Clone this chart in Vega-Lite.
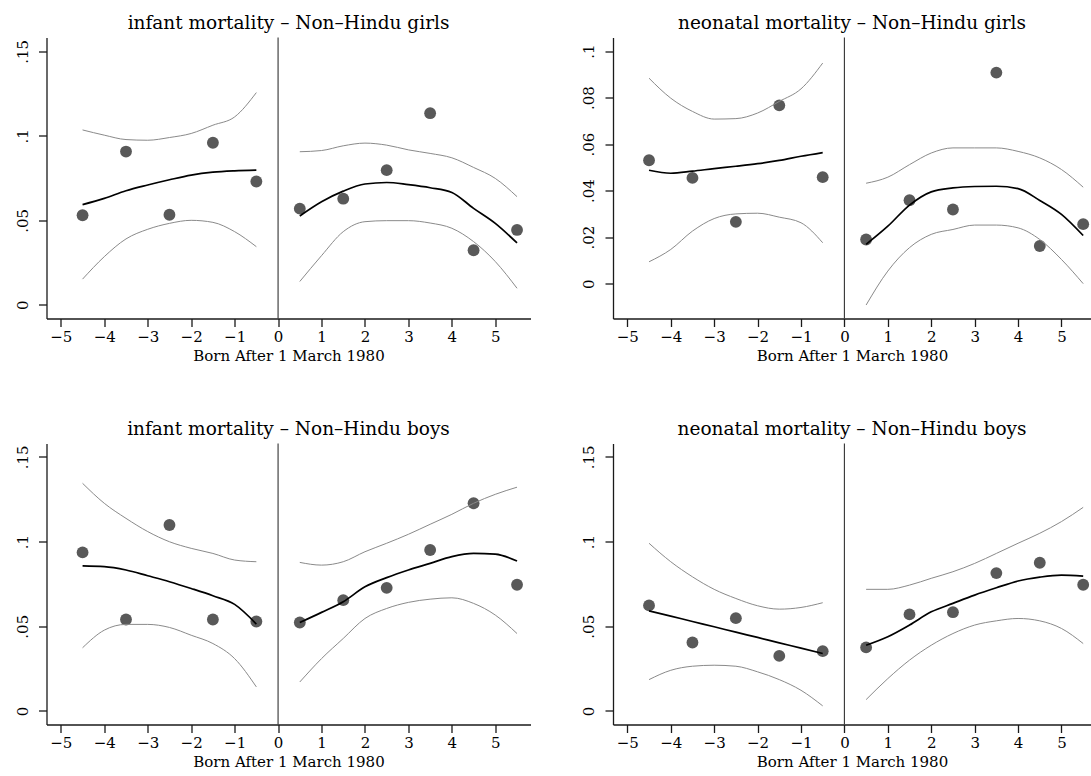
{
"$schema": "https://vega.github.io/schema/vega-lite/v6.json",
"padding": {"left": 14.5, "top": 13.5, "right": 0, "bottom": 0},
"background": "white",
"config": {
  "view": {"stroke": null},
  "font": "DejaVu Serif",
  "axis": {"grid": false, "domainColor": "#1a1a1a", "tickColor": "#1a1a1a", "labelColor": "#000", "titleColor": "#000", "labelFont": "DejaVu Serif", "titleFont": "DejaVu Serif", "tickSize": 8, "domainWidth": 1.3, "tickWidth": 1.3, "labelFontSize": 15, "titleFontSize": 15, "titleFontWeight": "normal"},
  "axisY": {"labelAngle": -90, "labelAlign": "center", "labelBaseline": "bottom", "labelPadding": 8.5},
  "axisX": {"labelPadding": 3, "titlePadding": 4},
  "title": {"font": "DejaVu Serif", "fontSize": 18.5, "fontWeight": "normal", "offset": 4, "color": "#000"}
},
"datasets": {
  "pts": [
    {"p": "IG", "x": -4.5, "y": 0.0530}, {"p": "IG", "x": -3.5, "y": 0.0907}, {"p": "IG", "x": -2.5, "y": 0.0533}, {"p": "IG", "x": -1.5, "y": 0.0959}, {"p": "IG", "x": -0.5, "y": 0.0730},
    {"p": "IG", "x": 0.5, "y": 0.0569}, {"p": "IG", "x": 1.5, "y": 0.0628}, {"p": "IG", "x": 2.5, "y": 0.0797}, {"p": "IG", "x": 3.5, "y": 0.1134}, {"p": "IG", "x": 4.5, "y": 0.0323}, {"p": "IG", "x": 5.5, "y": 0.0443},
    {"p": "NG", "x": -4.5, "y": 0.0531}, {"p": "NG", "x": -3.5, "y": 0.0455}, {"p": "NG", "x": -2.5, "y": 0.0266}, {"p": "NG", "x": -1.5, "y": 0.0767}, {"p": "NG", "x": -0.5, "y": 0.0458},
    {"p": "NG", "x": 0.5, "y": 0.0190}, {"p": "NG", "x": 1.5, "y": 0.0359}, {"p": "NG", "x": 2.5, "y": 0.0319}, {"p": "NG", "x": 3.5, "y": 0.0908}, {"p": "NG", "x": 4.5, "y": 0.0162}, {"p": "NG", "x": 5.5, "y": 0.0256},
    {"p": "IB", "x": -4.5, "y": 0.0936}, {"p": "IB", "x": -3.5, "y": 0.0540}, {"p": "IB", "x": -2.5, "y": 0.1098}, {"p": "IB", "x": -1.5, "y": 0.0540}, {"p": "IB", "x": -0.5, "y": 0.0528},
    {"p": "IB", "x": 0.5, "y": 0.0522}, {"p": "IB", "x": 1.5, "y": 0.0654}, {"p": "IB", "x": 2.5, "y": 0.0727}, {"p": "IB", "x": 3.5, "y": 0.0950}, {"p": "IB", "x": 4.5, "y": 0.1226}, {"p": "IB", "x": 5.5, "y": 0.0745},
    {"p": "NB", "x": -4.5, "y": 0.0623}, {"p": "NB", "x": -3.5, "y": 0.0404}, {"p": "NB", "x": -2.5, "y": 0.0548}, {"p": "NB", "x": -1.5, "y": 0.0325}, {"p": "NB", "x": -0.5, "y": 0.0353},
    {"p": "NB", "x": 0.5, "y": 0.0375}, {"p": "NB", "x": 1.5, "y": 0.0570}, {"p": "NB", "x": 2.5, "y": 0.0583}, {"p": "NB", "x": 3.5, "y": 0.0814}, {"p": "NB", "x": 4.5, "y": 0.0875}, {"p": "NB", "x": 5.5, "y": 0.0745}
  ],
  "fits": [
    {"p": "IG", "s": "L", "x": -4.5, "fit": 0.0593, "lo": 0.0152, "hi": 0.1035},
    {"p": "IG", "s": "L", "x": -4.0, "fit": 0.0630, "lo": 0.0285, "hi": 0.1004},
    {"p": "IG", "s": "L", "x": -3.5, "fit": 0.0675, "lo": 0.0390, "hi": 0.0978},
    {"p": "IG", "s": "L", "x": -3.0, "fit": 0.0709, "lo": 0.0447, "hi": 0.0974},
    {"p": "IG", "s": "L", "x": -2.5, "fit": 0.0740, "lo": 0.0482, "hi": 0.0990},
    {"p": "IG", "s": "L", "x": -2.0, "fit": 0.0768, "lo": 0.0500, "hi": 0.1014},
    {"p": "IG", "s": "L", "x": -1.5, "fit": 0.0785, "lo": 0.0488, "hi": 0.1063},
    {"p": "IG", "s": "L", "x": -1.0, "fit": 0.0793, "lo": 0.0433, "hi": 0.1112},
    {"p": "IG", "s": "L", "x": -0.5, "fit": 0.0797, "lo": 0.0344, "hi": 0.1256},
    {"p": "IG", "s": "R", "x": 0.5, "fit": 0.0526, "lo": 0.0138, "hi": 0.0906},
    {"p": "IG", "s": "R", "x": 1.0, "fit": 0.0610, "lo": 0.0291, "hi": 0.0913},
    {"p": "IG", "s": "R", "x": 1.5, "fit": 0.0673, "lo": 0.0433, "hi": 0.0941},
    {"p": "IG", "s": "R", "x": 2.0, "fit": 0.0715, "lo": 0.0492, "hi": 0.0957},
    {"p": "IG", "s": "R", "x": 2.5, "fit": 0.0724, "lo": 0.0498, "hi": 0.0945},
    {"p": "IG", "s": "R", "x": 3.0, "fit": 0.0711, "lo": 0.0498, "hi": 0.0917},
    {"p": "IG", "s": "R", "x": 3.5, "fit": 0.0693, "lo": 0.0484, "hi": 0.0896},
    {"p": "IG", "s": "R", "x": 4.0, "fit": 0.0665, "lo": 0.0453, "hi": 0.0870},
    {"p": "IG", "s": "R", "x": 4.5, "fit": 0.0571, "lo": 0.0374, "hi": 0.0813},
    {"p": "IG", "s": "R", "x": 5.0, "fit": 0.0482, "lo": 0.0256, "hi": 0.0748},
    {"p": "IG", "s": "R", "x": 5.5, "fit": 0.0366, "lo": 0.0098, "hi": 0.0640},
    {"p": "NG", "s": "L", "x": -4.5, "fit": 0.0488, "lo": 0.0094, "hi": 0.0884},
    {"p": "NG", "s": "L", "x": -4.0, "fit": 0.0475, "lo": 0.0147, "hi": 0.0798},
    {"p": "NG", "s": "L", "x": -3.5, "fit": 0.0484, "lo": 0.0226, "hi": 0.0741},
    {"p": "NG", "s": "L", "x": -3.0, "fit": 0.0495, "lo": 0.0280, "hi": 0.0708},
    {"p": "NG", "s": "L", "x": -2.5, "fit": 0.0505, "lo": 0.0300, "hi": 0.0710},
    {"p": "NG", "s": "L", "x": -2.0, "fit": 0.0516, "lo": 0.0303, "hi": 0.0734},
    {"p": "NG", "s": "L", "x": -1.5, "fit": 0.0530, "lo": 0.0286, "hi": 0.0784},
    {"p": "NG", "s": "L", "x": -1.0, "fit": 0.0548, "lo": 0.0262, "hi": 0.0838},
    {"p": "NG", "s": "L", "x": -0.5, "fit": 0.0564, "lo": 0.0176, "hi": 0.0949},
    {"p": "NG", "s": "R", "x": 0.5, "fit": 0.0169, "lo": -0.0092, "hi": 0.0432},
    {"p": "NG", "s": "R", "x": 1.0, "fit": 0.0247, "lo": 0.0054, "hi": 0.0458},
    {"p": "NG", "s": "R", "x": 1.5, "fit": 0.0338, "lo": 0.0155, "hi": 0.0512},
    {"p": "NG", "s": "R", "x": 2.0, "fit": 0.0395, "lo": 0.0212, "hi": 0.0562},
    {"p": "NG", "s": "R", "x": 2.5, "fit": 0.0412, "lo": 0.0233, "hi": 0.0584},
    {"p": "NG", "s": "R", "x": 3.0, "fit": 0.0418, "lo": 0.0252, "hi": 0.0584},
    {"p": "NG", "s": "R", "x": 3.5, "fit": 0.0419, "lo": 0.0252, "hi": 0.0584},
    {"p": "NG", "s": "R", "x": 4.0, "fit": 0.0409, "lo": 0.0240, "hi": 0.0569},
    {"p": "NG", "s": "R", "x": 4.5, "fit": 0.0358, "lo": 0.0190, "hi": 0.0541},
    {"p": "NG", "s": "R", "x": 5.0, "fit": 0.0298, "lo": 0.0104, "hi": 0.0491},
    {"p": "NG", "s": "R", "x": 5.5, "fit": 0.0207, "lo": 0.0000, "hi": 0.0415},
    {"p": "IB", "s": "L", "x": -4.5, "fit": 0.0856, "lo": 0.0373, "hi": 0.1344},
    {"p": "IB", "s": "L", "x": -4.0, "fit": 0.0852, "lo": 0.0477, "hi": 0.1226},
    {"p": "IB", "s": "L", "x": -3.5, "fit": 0.0832, "lo": 0.0511, "hi": 0.1137},
    {"p": "IB", "s": "L", "x": -3.0, "fit": 0.0798, "lo": 0.0511, "hi": 0.1059},
    {"p": "IB", "s": "L", "x": -2.5, "fit": 0.0763, "lo": 0.0493, "hi": 0.0999},
    {"p": "IB", "s": "L", "x": -2.0, "fit": 0.0723, "lo": 0.0447, "hi": 0.0960},
    {"p": "IB", "s": "L", "x": -1.5, "fit": 0.0680, "lo": 0.0398, "hi": 0.0930},
    {"p": "IB", "s": "L", "x": -1.0, "fit": 0.0629, "lo": 0.0309, "hi": 0.0891},
    {"p": "IB", "s": "L", "x": -0.5, "fit": 0.0513, "lo": 0.0142, "hi": 0.0881},
    {"p": "IB", "s": "R", "x": 0.5, "fit": 0.0522, "lo": 0.0171, "hi": 0.0877},
    {"p": "IB", "s": "R", "x": 1.0, "fit": 0.0582, "lo": 0.0309, "hi": 0.0861},
    {"p": "IB", "s": "R", "x": 1.5, "fit": 0.0645, "lo": 0.0428, "hi": 0.0881},
    {"p": "IB", "s": "R", "x": 2.0, "fit": 0.0733, "lo": 0.0546, "hi": 0.0940},
    {"p": "IB", "s": "R", "x": 2.5, "fit": 0.0787, "lo": 0.0605, "hi": 0.0990},
    {"p": "IB", "s": "R", "x": 3.0, "fit": 0.0832, "lo": 0.0641, "hi": 0.1043},
    {"p": "IB", "s": "R", "x": 3.5, "fit": 0.0871, "lo": 0.0660, "hi": 0.1102},
    {"p": "IB", "s": "R", "x": 4.0, "fit": 0.0911, "lo": 0.0668, "hi": 0.1161},
    {"p": "IB", "s": "R", "x": 4.5, "fit": 0.0930, "lo": 0.0635, "hi": 0.1226},
    {"p": "IB", "s": "R", "x": 5.0, "fit": 0.0926, "lo": 0.0566, "hi": 0.1279},
    {"p": "IB", "s": "R", "x": 5.5, "fit": 0.0885, "lo": 0.0457, "hi": 0.1321},
    {"p": "NB", "s": "L", "x": -4.5, "fit": 0.0591, "lo": 0.0185, "hi": 0.0990},
    {"p": "NB", "s": "L", "x": -4.0, "fit": 0.0560, "lo": 0.0240, "hi": 0.0881},
    {"p": "NB", "s": "L", "x": -3.5, "fit": 0.0528, "lo": 0.0264, "hi": 0.0792},
    {"p": "NB", "s": "L", "x": -3.0, "fit": 0.0497, "lo": 0.0270, "hi": 0.0718},
    {"p": "NB", "s": "L", "x": -2.5, "fit": 0.0465, "lo": 0.0264, "hi": 0.0664},
    {"p": "NB", "s": "L", "x": -2.0, "fit": 0.0434, "lo": 0.0231, "hi": 0.0621},
    {"p": "NB", "s": "L", "x": -1.5, "fit": 0.0402, "lo": 0.0185, "hi": 0.0601},
    {"p": "NB", "s": "L", "x": -1.0, "fit": 0.0371, "lo": 0.0122, "hi": 0.0611},
    {"p": "NB", "s": "L", "x": -0.5, "fit": 0.0339, "lo": 0.0030, "hi": 0.0639},
    {"p": "NB", "s": "R", "x": 0.5, "fit": 0.0388, "lo": 0.0067, "hi": 0.0718},
    {"p": "NB", "s": "R", "x": 1.0, "fit": 0.0438, "lo": 0.0191, "hi": 0.0718},
    {"p": "NB", "s": "R", "x": 1.5, "fit": 0.0507, "lo": 0.0300, "hi": 0.0743},
    {"p": "NB", "s": "R", "x": 2.0, "fit": 0.0585, "lo": 0.0388, "hi": 0.0783},
    {"p": "NB", "s": "R", "x": 2.5, "fit": 0.0635, "lo": 0.0457, "hi": 0.0822},
    {"p": "NB", "s": "R", "x": 3.0, "fit": 0.0684, "lo": 0.0507, "hi": 0.0871},
    {"p": "NB", "s": "R", "x": 3.5, "fit": 0.0727, "lo": 0.0532, "hi": 0.0930},
    {"p": "NB", "s": "R", "x": 4.0, "fit": 0.0767, "lo": 0.0546, "hi": 0.0990},
    {"p": "NB", "s": "R", "x": 4.5, "fit": 0.0790, "lo": 0.0532, "hi": 0.1049},
    {"p": "NB", "s": "R", "x": 5.0, "fit": 0.0802, "lo": 0.0487, "hi": 0.1118},
    {"p": "NB", "s": "R", "x": 5.5, "fit": 0.0796, "lo": 0.0398, "hi": 0.1202}
  ]
},
"spacing": 56,
"vconcat": [
 {"spacing": 50.5, "hconcat": [
  {"title": "infant mortality – Non–Hindu girls", "width": 484, "height": 281,
   "layer": [
    {"data": {"values": [{"x": 0}]}, "mark": {"type": "rule", "color": "#333333", "strokeWidth": 1.1},
     "encoding": {"x": {"field": "x", "type": "quantitative", "scale": {"domain": [-5.33, 5.81], "nice": false, "zero": false}, "axis": {"values": [-5,-4,-3,-2,-1,0,1,2,3,4,5], "title": "Born After 1 March 1980"}}}},
    {"data": {"name": "pts"}, "transform": [{"filter": "datum.p == 'IG'"}], "mark": {"type": "circle", "size": 140, "color": "#595959", "opacity": 1},
     "encoding": {"x": {"field": "x", "type": "quantitative", "scale": {"domain": [-5.33, 5.81], "nice": false, "zero": false}, "axis": {"values": [-5,-4,-3,-2,-1,0,1,2,3,4,5], "title": "Born After 1 March 1980"}},
                  "y": {"field": "y", "type": "quantitative", "scale": {"domain": [-0.0081, 0.1582], "nice": false, "zero": false}, "axis": {"values": [0, 0.05, 0.1, 0.15], "title": null, "labelExpr": "datum.value == 0 ? '0' : substring(format(datum.value, '.2~f'), 1)"}}}},
    {"data": {"name": "fits"}, "transform": [{"filter": "datum.p == 'IG'"}], "mark": {"type": "line", "color": "#8a8a8a", "strokeWidth": 1, "interpolate": "monotone"},
     "encoding": {"x": {"field": "x", "type": "quantitative"}, "y": {"field": "lo", "type": "quantitative", "title": null}, "detail": {"field": "s"}}},
    {"data": {"name": "fits"}, "transform": [{"filter": "datum.p == 'IG'"}], "mark": {"type": "line", "color": "#8a8a8a", "strokeWidth": 1, "interpolate": "monotone"},
     "encoding": {"x": {"field": "x", "type": "quantitative"}, "y": {"field": "hi", "type": "quantitative", "title": null}, "detail": {"field": "s"}}},
    {"data": {"name": "fits"}, "transform": [{"filter": "datum.p == 'IG'"}], "mark": {"type": "line", "color": "#000000", "strokeWidth": 1.7, "interpolate": "monotone"},
     "encoding": {"x": {"field": "x", "type": "quantitative"}, "y": {"field": "fit", "type": "quantitative", "title": null}, "detail": {"field": "s"}}}
   ]},
  {"title": "neonatal mortality – Non–Hindu girls", "width": 478, "height": 281,
   "layer": [
    {"data": {"values": [{"x": 0}]}, "mark": {"type": "rule", "color": "#333333", "strokeWidth": 1.1},
     "encoding": {"x": {"field": "x", "type": "quantitative", "scale": {"domain": [-5.33, 5.68], "nice": false, "zero": false}, "axis": {"values": [-5,-4,-3,-2,-1,0,1,2,3,4,5], "title": "Born After 1 March 1980"}}}},
    {"data": {"name": "pts"}, "transform": [{"filter": "datum.p == 'NG'"}], "mark": {"type": "circle", "size": 140, "color": "#595959", "opacity": 1},
     "encoding": {"x": {"field": "x", "type": "quantitative", "scale": {"domain": [-5.33, 5.68], "nice": false, "zero": false}, "axis": {"values": [-5,-4,-3,-2,-1,0,1,2,3,4,5], "title": "Born After 1 March 1980"}},
                  "y": {"field": "y", "type": "quantitative", "scale": {"domain": [-0.015, 0.1059], "nice": false, "zero": false}, "axis": {"values": [0, 0.02, 0.04, 0.06, 0.08, 0.1], "title": null, "labelExpr": "datum.value == 0 ? '0' : substring(format(datum.value, '.2~f'), 1)"}}}},
    {"data": {"name": "fits"}, "transform": [{"filter": "datum.p == 'NG'"}], "mark": {"type": "line", "color": "#8a8a8a", "strokeWidth": 1, "interpolate": "monotone"},
     "encoding": {"x": {"field": "x", "type": "quantitative"}, "y": {"field": "lo", "type": "quantitative", "title": null}, "detail": {"field": "s"}}},
    {"data": {"name": "fits"}, "transform": [{"filter": "datum.p == 'NG'"}], "mark": {"type": "line", "color": "#8a8a8a", "strokeWidth": 1, "interpolate": "monotone"},
     "encoding": {"x": {"field": "x", "type": "quantitative"}, "y": {"field": "hi", "type": "quantitative", "title": null}, "detail": {"field": "s"}}},
    {"data": {"name": "fits"}, "transform": [{"filter": "datum.p == 'NG'"}], "mark": {"type": "line", "color": "#000000", "strokeWidth": 1.7, "interpolate": "monotone"},
     "encoding": {"x": {"field": "x", "type": "quantitative"}, "y": {"field": "fit", "type": "quantitative", "title": null}, "detail": {"field": "s"}}}
   ]}
 ]},
 {"spacing": 50.5, "hconcat": [
  {"title": "infant mortality – Non–Hindu boys", "width": 484, "height": 281,
   "layer": [
    {"data": {"values": [{"x": 0}]}, "mark": {"type": "rule", "color": "#333333", "strokeWidth": 1.1},
     "encoding": {"x": {"field": "x", "type": "quantitative", "scale": {"domain": [-5.33, 5.81], "nice": false, "zero": false}, "axis": {"values": [-5,-4,-3,-2,-1,0,1,2,3,4,5], "title": "Born After 1 March 1980"}}}},
    {"data": {"name": "pts"}, "transform": [{"filter": "datum.p == 'IB'"}], "mark": {"type": "circle", "size": 140, "color": "#595959", "opacity": 1},
     "encoding": {"x": {"field": "x", "type": "quantitative", "scale": {"domain": [-5.33, 5.81], "nice": false, "zero": false}, "axis": {"values": [-5,-4,-3,-2,-1,0,1,2,3,4,5], "title": "Born After 1 March 1980"}},
                  "y": {"field": "y", "type": "quantitative", "scale": {"domain": [-0.008, 0.1579], "nice": false, "zero": false}, "axis": {"values": [0, 0.05, 0.1, 0.15], "title": null, "labelExpr": "datum.value == 0 ? '0' : substring(format(datum.value, '.2~f'), 1)"}}}},
    {"data": {"name": "fits"}, "transform": [{"filter": "datum.p == 'IB'"}], "mark": {"type": "line", "color": "#8a8a8a", "strokeWidth": 1, "interpolate": "monotone"},
     "encoding": {"x": {"field": "x", "type": "quantitative"}, "y": {"field": "lo", "type": "quantitative", "title": null}, "detail": {"field": "s"}}},
    {"data": {"name": "fits"}, "transform": [{"filter": "datum.p == 'IB'"}], "mark": {"type": "line", "color": "#8a8a8a", "strokeWidth": 1, "interpolate": "monotone"},
     "encoding": {"x": {"field": "x", "type": "quantitative"}, "y": {"field": "hi", "type": "quantitative", "title": null}, "detail": {"field": "s"}}},
    {"data": {"name": "fits"}, "transform": [{"filter": "datum.p == 'IB'"}], "mark": {"type": "line", "color": "#000000", "strokeWidth": 1.7, "interpolate": "monotone"},
     "encoding": {"x": {"field": "x", "type": "quantitative"}, "y": {"field": "fit", "type": "quantitative", "title": null}, "detail": {"field": "s"}}}
   ]},
  {"title": "neonatal mortality – Non–Hindu boys", "width": 478, "height": 281,
   "layer": [
    {"data": {"values": [{"x": 0}]}, "mark": {"type": "rule", "color": "#333333", "strokeWidth": 1.1},
     "encoding": {"x": {"field": "x", "type": "quantitative", "scale": {"domain": [-5.33, 5.68], "nice": false, "zero": false}, "axis": {"values": [-5,-4,-3,-2,-1,0,1,2,3,4,5], "title": "Born After 1 March 1980"}}}},
    {"data": {"name": "pts"}, "transform": [{"filter": "datum.p == 'NB'"}], "mark": {"type": "circle", "size": 140, "color": "#595959", "opacity": 1},
     "encoding": {"x": {"field": "x", "type": "quantitative", "scale": {"domain": [-5.33, 5.68], "nice": false, "zero": false}, "axis": {"values": [-5,-4,-3,-2,-1,0,1,2,3,4,5], "title": "Born After 1 March 1980"}},
                  "y": {"field": "y", "type": "quantitative", "scale": {"domain": [-0.008, 0.1579], "nice": false, "zero": false}, "axis": {"values": [0, 0.05, 0.1, 0.15], "title": null, "labelExpr": "datum.value == 0 ? '0' : substring(format(datum.value, '.2~f'), 1)"}}}},
    {"data": {"name": "fits"}, "transform": [{"filter": "datum.p == 'NB'"}], "mark": {"type": "line", "color": "#8a8a8a", "strokeWidth": 1, "interpolate": "monotone"},
     "encoding": {"x": {"field": "x", "type": "quantitative"}, "y": {"field": "lo", "type": "quantitative", "title": null}, "detail": {"field": "s"}}},
    {"data": {"name": "fits"}, "transform": [{"filter": "datum.p == 'NB'"}], "mark": {"type": "line", "color": "#8a8a8a", "strokeWidth": 1, "interpolate": "monotone"},
     "encoding": {"x": {"field": "x", "type": "quantitative"}, "y": {"field": "hi", "type": "quantitative", "title": null}, "detail": {"field": "s"}}},
    {"data": {"name": "fits"}, "transform": [{"filter": "datum.p == 'NB'"}], "mark": {"type": "line", "color": "#000000", "strokeWidth": 1.7, "interpolate": "monotone"},
     "encoding": {"x": {"field": "x", "type": "quantitative"}, "y": {"field": "fit", "type": "quantitative", "title": null}, "detail": {"field": "s"}}}
   ]}
 ]}
]
}
